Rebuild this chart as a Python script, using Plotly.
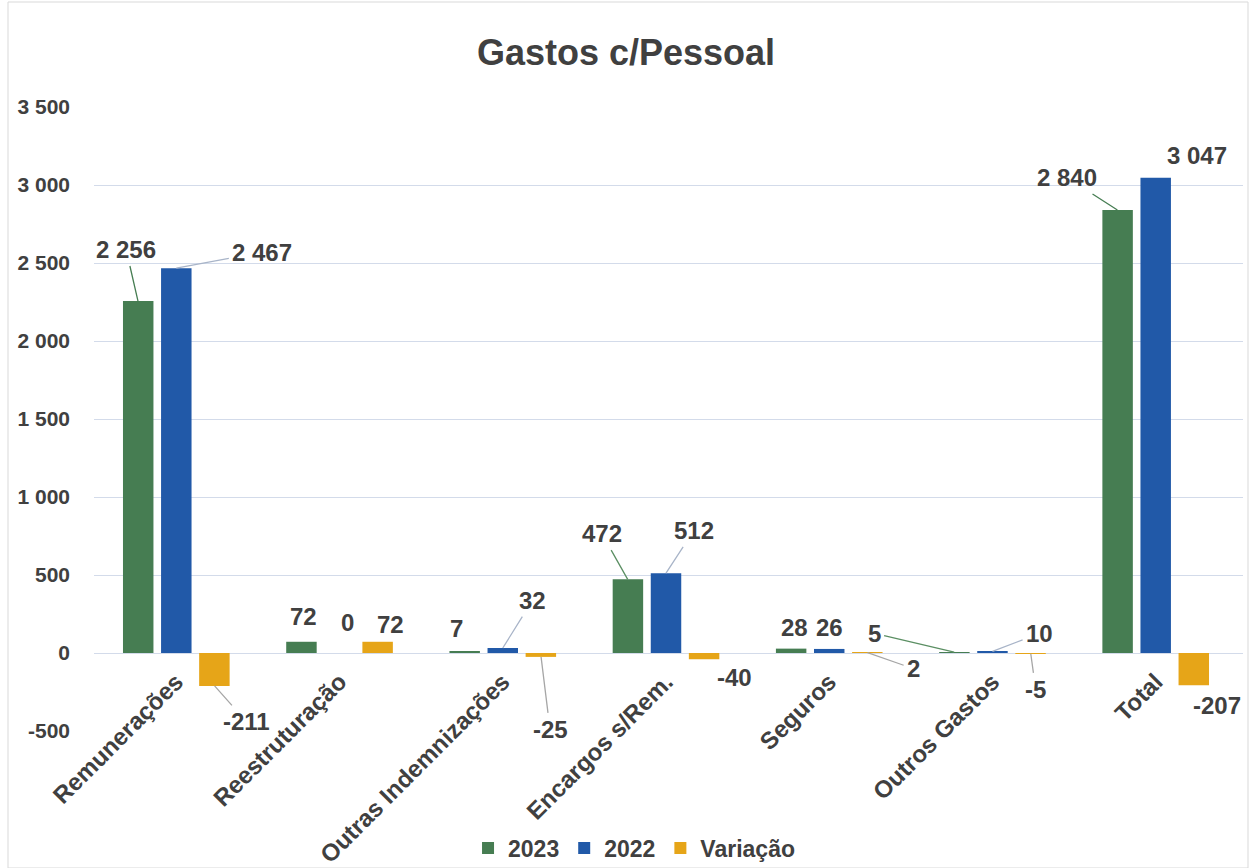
import plotly.graph_objects as go

categories = ["Remunerações", "Reestruturação", "Outras Indemnizações",
              "Encargos s/Rem.", "Seguros", "Outros Gastos", "Total"]
v2023 = [2256, 72, 7, 472, 28, 5, 2840]
v2022 = [2467, 0, 32, 512, 26, 10, 3047]
variacao = [-211, 72, -25, -40, 2, -5, -207]

series_names = ["2023", "2022", "Variação"]
series_values = [v2023, v2022, variacao]
colors = ["#467d52", "#2159a8", "#e6a518"]

# label placement (pixel offsets) per series per category: (showarrow, ax, ay, xshift_extra, yshift)
label_pos = [
    [(True, -12, -52, 0, 0), (False, 0, 0, 2, 25), (False, -8, 0, -8, 23),
     (True, -26, -46, 0, 0), (False, 0, 0, 4, 21), (True, -80, -19, 0, 0),
     (True, -50, -32, 0, 0)],
    [(True, 86, -16, 0, 0), (False, 0, 0, 8, 31), (True, 30, -48, 0, 0),
     (True, 28, -43, 0, 0), (False, 0, 0, 0, 21), (True, 47, -18, 0, 0),
     (False, 0, 0, 41, 22)],
    [(True, 32, 36, 0, 0), (False, 0, 0, 13, 17), (True, 9, 73, 0, 0),
     (False, 0, 0, 30, -18), (True, 46, 16, 0, 0), (True, 5, 36, 0, 0),
     (False, 0, 0, 23, -20)],
]
line_colors = ["#5b8f63", "#a8b4c8", "#a6a6a6"]
slot_px = 38.3

def fmt(v):
    return f"{v:,}".replace(",", " ")

fig = go.Figure()
for name, vals, col in zip(series_names, series_values, colors):
    fig.add_trace(go.Bar(x=categories, y=vals, name=f"<b>{name}</b>", marker_color=col,
                         marker_line_width=0))

annotations = []
for si, vals in enumerate(series_values):
    base_shift = (si - 1) * slot_px
    for ci, v in enumerate(vals):
        show, ax, ay, xs, ys = label_pos[si][ci]
        a = dict(x=categories[ci], y=v, xref="x", yref="y", text=f"<b>{fmt(v)}</b>",
                 font=dict(family="Liberation Sans", size=24, color="#404040"),
                 xshift=base_shift + xs, yshift=ys)
        if show:
            a.update(showarrow=True, arrowhead=0, arrowwidth=1.3,
                     arrowcolor="#467d52" if (si == 0 and ci in (0, 6)) else line_colors[si],
                     ax=ax, ay=ay, standoff=0, startstandoff=2)
        else:
            a.update(showarrow=False)
        annotations.append(a)

yticks = list(range(-500, 3501, 500))

fig.update_layout(
    width=1252, height=868,
    paper_bgcolor="white", plot_bgcolor="white",
    margin=dict(l=94, r=9, t=107, b=137, autoexpand=False),
    title=dict(text="<b>Gastos c/Pessoal</b>", x=0.5, xref="container",
               y=1 - 52 / 868, yanchor="middle",
               font=dict(family="Liberation Sans", size=36, color="#404040")),
    barmode="group", bargap=0.3, bargroupgap=0.2,
    font=dict(family="Liberation Sans", color="#404040"),
    legend=dict(orientation="h", x=0.47, xanchor="center", y=-0.1875,
                yanchor="middle", font=dict(size=23, color="#404040"),
                bgcolor="rgba(0,0,0,0)", itemwidth=30, tracegroupgap=0),
    annotations=annotations,
    shapes=[dict(type="rect", xref="paper", yref="paper",
                 x0=-86 / 1149, x1=1 + 5 / 1149, y0=-137 / 624, y1=1 + 105 / 624,
                 line=dict(color="#d9d9d9", width=1))],
)
fig.update_xaxes(tickangle=-45, showgrid=False, showline=False, ticks="",
                 anchor="free", position=500 / 4000, automargin=False,
                 tickvals=categories, ticktext=[f"<b>{c}</b>" for c in categories],
                 tickfont=dict(size=24, color="#404040", family="Liberation Sans"),
                 ticklabelstandoff=9)
fig.update_yaxes(range=[-500, 3500], automargin=False,
                 tickvals=yticks, ticktext=[f"<b>{fmt(t)}</b>" for t in yticks],
                 showgrid=True, gridcolor="#d3dbea", gridwidth=1,
                 zeroline=False, showline=False,
                 tickfont=dict(size=21, color="#404040", family="Liberation Sans"),
                 ticklabelstandoff=23)

fig.write_html("out.html")
